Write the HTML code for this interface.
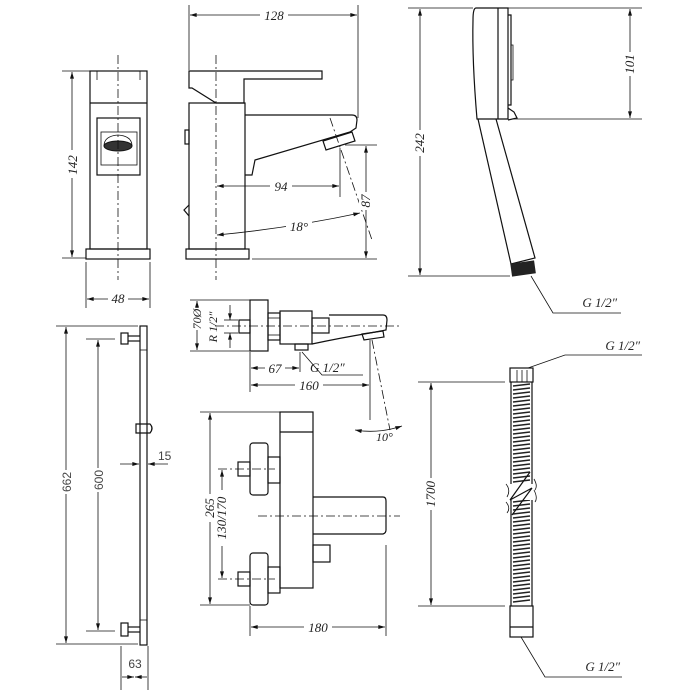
<!DOCTYPE html>
<html><head><meta charset="utf-8"><style>
html,body{margin:0;padding:0;background:#fff;}
svg{display:block}
.s{fill:none;stroke:#111;stroke-width:1.2}
.t{fill:none;stroke:#111;stroke-width:0.8}
.c{fill:none;stroke:#111;stroke-width:0.8;stroke-dasharray:9 3 2 3}
text{font-family:"Liberation Serif",serif;font-style:italic;font-size:13px;fill:#222}
.sa{font-family:"Liberation Sans",sans-serif;font-style:normal;font-size:12px;fill:#444}
</style></head><body>
<svg width="700" height="700" viewBox="0 0 700 700">
<defs>
<marker id="a" viewBox="0 0 10 6" refX="10" refY="3" markerWidth="9" markerHeight="5" orient="auto-start-reverse"><path d="M0,0L10,3L0,6z" fill="#111"/></marker>
</defs>
<g>
<!-- front view basin mixer -->
<rect class="s" x="90" y="71" width="57" height="178"/>
<line class="s" x1="90" y1="103" x2="147" y2="103"/>
<line class="t" x1="97" y1="71" x2="97" y2="80"/><line class="t" x1="140" y1="71" x2="140" y2="80"/>
<rect class="s" x="97" y="118" width="43" height="57"/>
<rect class="t" x="101" y="132" width="36" height="33"/>
<ellipse cx="118" cy="146" rx="14" ry="5" fill="#333" stroke="#111"/>
<path class="t" d="M104,146 Q104,136 118,135 Q132,136 132,146"/>
<rect class="s" x="86" y="249" width="64" height="10"/>
<line class="c" x1="118" y1="55" x2="118" y2="280"/>
<line class="t" x1="62" y1="71" x2="105" y2="71"/><line class="t" x1="62" y1="258" x2="86" y2="258"/>
<line class="t" x1="72" y1="72" x2="72" y2="257" marker-start="url(#a)" marker-end="url(#a)"/>
<rect x="64" y="150" width="16" height="28" fill="#fff"/>
<text transform="translate(77,165) rotate(-90)" text-anchor="middle">142</text>
<line class="t" x1="86" y1="262" x2="86" y2="308"/><line class="t" x1="150" y1="262" x2="150" y2="308"/>
<line class="t" x1="87" y1="299" x2="149" y2="299" marker-start="url(#a)" marker-end="url(#a)"/>
<rect x="108" y="290" width="20" height="14" fill="#fff"/>
<text x="118" y="303" text-anchor="middle">48</text>

<!-- side view -->
<rect class="s" x="189" y="103" width="56" height="146"/>
<rect class="s" x="186" y="249" width="63" height="10"/>
<path class="s" d="M189,71 L322,71 L322,79 L244,79 L244,103 L216,103 L192,88 L189,88 Z"/>
<line class="t" x1="189" y1="103" x2="245" y2="103"/>
<path class="s" d="M245,115 L352,115 Q357,115 357,120 L356,128 L350,132 L255,160 L252,175 L245,175"/>
<path class="s" d="M323,141 L352,132 L355,141 L326,150 Z"/>
<rect class="s" x="185" y="130" width="4" height="14"/>
<path class="s" d="M189,205 L184,210 L189,216"/>
<line class="c" x1="216" y1="55" x2="216" y2="280"/>
<line class="c" x1="330" y1="118" x2="372" y2="240"/>
<line class="t" x1="189" y1="5" x2="189" y2="70"/><line class="t" x1="358" y1="5" x2="358" y2="118"/>
<line class="t" x1="190" y1="15" x2="357" y2="15" marker-start="url(#a)" marker-end="url(#a)"/>
<rect x="260" y="8" width="28" height="14" fill="#fff"/>
<text x="274" y="20" text-anchor="middle">128</text>
<line class="t" x1="340" y1="148" x2="340" y2="197"/>
<line class="t" x1="217" y1="186" x2="339" y2="186" marker-start="url(#a)" marker-end="url(#a)"/>
<rect x="270" y="178" width="22" height="14" fill="#fff"/>
<text x="281" y="191" text-anchor="middle">94</text>
<path class="t" d="M217,235 Q290,228 360,213" marker-start="url(#a)" marker-end="url(#a)"/>
<rect x="286" y="219" width="26" height="14" fill="#fff"/>
<text x="299" y="231" text-anchor="middle">18°</text>
<line class="t" x1="345" y1="145" x2="377" y2="145"/><line class="t" x1="252" y1="259" x2="377" y2="259"/>
<line class="t" x1="366" y1="146" x2="366" y2="258" marker-start="url(#a)" marker-end="url(#a)"/>
<rect x="359" y="192" width="14" height="18" fill="#fff"/>
<text transform="translate(370,201) rotate(-90)" text-anchor="middle">87</text>

<!-- hand shower -->
<path class="s" d="M476,8 L508,8 L508,119 L477,119 Q472,60 473,20 Q473,8 476,8 Z"/>
<line class="s" x1="498" y1="8" x2="498" y2="119"/>
<path class="s" d="M508,15 L511,15 L511,105 L508,105"/>
<path class="t" d="M511,45 L513,45 L513,80 L511,80"/>
<path class="s" d="M508,108 L514,112 L517,118 L508,120"/>
<path class="s" d="M478,119 L511,264 L535,258 L496,119"/>
<rect x="511" y="262" width="24" height="13" fill="#222" transform="rotate(-8 523 268)"/>
<polyline class="t" points="531,276 553,313 621,313"/>
<text x="617" y="307" text-anchor="end">G 1/2″</text>
<line class="t" x1="408" y1="8" x2="473" y2="8"/><line class="t" x1="508" y1="8" x2="642" y2="8"/>
<line class="t" x1="408" y1="276" x2="510" y2="276"/><line class="t" x1="512" y1="119" x2="642" y2="119"/>
<line class="t" x1="420" y1="9" x2="420" y2="275" marker-start="url(#a)" marker-end="url(#a)"/>
<rect x="413" y="130" width="14" height="26" fill="#fff"/>
<text transform="translate(424,143) rotate(-90)" text-anchor="middle">242</text>
<line class="t" x1="630" y1="9" x2="630" y2="118" marker-start="url(#a)" marker-end="url(#a)"/>
<rect x="623" y="52" width="14" height="24" fill="#fff"/>
<text transform="translate(634,64) rotate(-90)" text-anchor="middle">101</text>

<!-- hose -->
<rect class="s" x="510" y="368" width="23" height="14"/>
<line class="t" x1="517" y1="370" x2="517" y2="382"/><line class="t" x1="522" y1="370" x2="522" y2="382"/><line class="t" x1="527" y1="370" x2="527" y2="382"/>
<path class="s" d="M511,382 L511,606 M532,382 L532,606"/>
<path d="M513,386 L530,384 M513,390 L530,388 M513,394 L530,392 M513,398 L530,396 M513,402 L530,400 M513,406 L530,404 M513,410 L530,408 M513,414 L530,412 M513,418 L530,416 M513,422 L530,420 M513,426 L530,424 M513,430 L530,428 M513,434 L530,432 M513,438 L530,436 M513,442 L530,440 M513,446 L530,444 M513,450 L530,448 M513,454 L530,452 M513,458 L530,456 M513,462 L530,460 M513,466 L530,464 M513,470 L530,468 M513,474 L530,472 M513,478 L530,476 M513,482 L530,480 M513,502 L530,500 M513,506 L530,504 M513,510 L530,508 M513,514 L530,512 M513,518 L530,516 M513,522 L530,520 M513,526 L530,524 M513,530 L530,528 M513,534 L530,532 M513,538 L530,536 M513,542 L530,540 M513,546 L530,544 M513,550 L530,548 M513,554 L530,552 M513,558 L530,556 M513,562 L530,560 M513,566 L530,564 M513,570 L530,568 M513,574 L530,572 M513,578 L530,576 M513,582 L530,580 M513,586 L530,584 M513,590 L530,588 M513,594 L530,592 M513,598 L530,596 M513,602 L530,600" stroke="#222" stroke-width="1.4"/>
<rect x="506" y="484" width="32" height="16" fill="#fff"/>
<path class="s" d="M530,472 L510,500 L532,488 L512,515"/>
<path class="t" d="M506,484 Q511,490 507,497 M534,479 Q538,486 535,490 M506,502 Q511,508 507,513 M534,490 Q538,498 535,502"/>
<rect class="s" x="510" y="606" width="23" height="31"/>
<line class="s" x1="510" y1="627" x2="533" y2="627"/>
<polyline class="t" points="528,368 565,355 642,355"/>
<text x="640" y="350" text-anchor="end">G 1/2″</text>
<polyline class="t" points="521,637 545,677 622,677"/>
<text x="620" y="671" text-anchor="end">G 1/2″</text>
<line class="t" x1="418" y1="382" x2="505" y2="382"/><line class="t" x1="418" y1="606" x2="505" y2="606"/>
<line class="t" x1="431" y1="383" x2="431" y2="605" marker-start="url(#a)" marker-end="url(#a)"/>
<rect x="424" y="478" width="14" height="32" fill="#fff"/>
<text transform="translate(435,494) rotate(-90)" text-anchor="middle">1700</text>

<!-- bath mixer top view -->
<rect class="s" x="250" y="300" width="18" height="51"/>
<rect class="s" x="239" y="320" width="11" height="13"/>
<rect class="s" x="268" y="313" width="12" height="27"/>
<line class="t" x1="268" y1="318" x2="280" y2="318"/><line class="t" x1="268" y1="335" x2="280" y2="335"/>
<rect class="s" x="280" y="311" width="32" height="33"/>
<rect class="s" x="295" y="344" width="13" height="6"/>
<rect class="s" x="312" y="318" width="17" height="15"/>
<path class="s" d="M329,315 L383,315 Q387,315 387,320 L386,330 L370,333 Q340,338 312,344"/>
<path class="s" d="M362,334 L383,331 L384,337 L364,340 Z"/>
<line class="c" x1="215" y1="326" x2="400" y2="326"/>
<line class="c" x1="372" y1="340" x2="390" y2="430"/>
<line class="t" x1="190" y1="300" x2="250" y2="300"/><line class="t" x1="190" y1="351" x2="250" y2="351"/>
<line class="t" x1="197" y1="301" x2="197" y2="350" marker-start="url(#a)" marker-end="url(#a)"/>
<rect x="190" y="308" width="14" height="22" fill="#fff"/>
<text transform="translate(201,319) rotate(-90)" text-anchor="middle" style="font-size:12px">70Ø</text>
<line class="t" x1="224" y1="320" x2="238" y2="320"/><line class="t" x1="224" y1="333" x2="238" y2="333"/>
<line class="t" x1="230" y1="305" x2="230" y2="320" marker-end="url(#a)"/><line class="t" x1="230" y1="348" x2="230" y2="333" marker-end="url(#a)"/>
<text transform="translate(217,327) rotate(-90)" text-anchor="middle" style="font-size:12px">R 1/2″</text>
<line class="t" x1="250" y1="352" x2="250" y2="392"/><line class="t" x1="300" y1="352" x2="300" y2="372"/>
<line class="t" x1="251" y1="368" x2="299" y2="368" marker-start="url(#a)" marker-end="url(#a)"/>
<rect x="265" y="361" width="20" height="14" fill="#fff"/>
<text x="275" y="373" text-anchor="middle">67</text>
<polyline class="t" points="302,352 322,375 363,375"/>
<text x="310" y="372">G 1/2″</text>
<line class="t" x1="370" y1="340" x2="370" y2="420"/>
<line class="t" x1="251" y1="385" x2="369" y2="385" marker-start="url(#a)" marker-end="url(#a)"/>
<rect x="295" y="378" width="28" height="14" fill="#fff"/>
<text x="309" y="390" text-anchor="middle">160</text>
<path class="t" d="M355,430 Q378,434 402,426" marker-start="url(#a)" marker-end="url(#a)"/>
<text x="376" y="441" style="font-size:12px">10°</text>

<!-- bath mixer front view -->
<rect class="s" x="280" y="412" width="33" height="176"/>
<line class="s" x1="280" y1="432" x2="313" y2="432"/>
<rect class="s" x="250" y="443" width="18" height="52" rx="3"/>
<rect class="s" x="250" y="553" width="18" height="52" rx="3"/>
<rect class="s" x="238" y="462" width="12" height="14"/>
<rect class="s" x="238" y="572" width="12" height="14"/>
<rect class="s" x="268" y="457" width="12" height="26"/>
<rect class="s" x="268" y="567" width="12" height="26"/>
<path class="s" d="M313,497 L383,497 Q386,497 386,501 L386,530 Q386,533 383,534 L313,534"/>
<rect class="s" x="313" y="545" width="17" height="17"/>
<line class="c" x1="258" y1="516" x2="400" y2="516"/>
<line class="c" x1="218" y1="469" x2="275" y2="469"/>
<line class="c" x1="218" y1="579" x2="275" y2="579"/>
<line class="t" x1="200" y1="412" x2="280" y2="412"/><line class="t" x1="200" y1="605" x2="250" y2="605"/>
<line class="t" x1="210" y1="413" x2="210" y2="604" marker-start="url(#a)" marker-end="url(#a)"/>
<rect x="203" y="494" width="14" height="28" fill="#fff"/>
<text transform="translate(214,508) rotate(-90)" text-anchor="middle">265</text>
<line class="t" x1="222" y1="470" x2="222" y2="578" marker-start="url(#a)" marker-end="url(#a)"/>
<rect x="215" y="490" width="14" height="56" fill="#fff"/>
<text transform="translate(226,518) rotate(-90)" text-anchor="middle">130/170</text>
<line class="t" x1="250" y1="606" x2="250" y2="636"/><line class="t" x1="386" y1="545" x2="386" y2="636"/>
<line class="t" x1="251" y1="627" x2="385" y2="627" marker-start="url(#a)" marker-end="url(#a)"/>
<rect x="304" y="620" width="28" height="14" fill="#fff"/>
<text x="318" y="632" text-anchor="middle">180</text>

<!-- shower rail -->
<rect class="s" x="140" y="326" width="7" height="319"/>
<line class="t" x1="140" y1="350" x2="147" y2="350"/><line class="t" x1="140" y1="620" x2="147" y2="620"/>
<rect class="s" x="121" y="333" width="7" height="11"/><line class="s" x1="128" y1="336" x2="140" y2="336"/><line class="s" x1="128" y1="341" x2="140" y2="341"/>
<rect class="s" x="121" y="623" width="7" height="13"/><line class="s" x1="128" y1="627" x2="140" y2="627"/><line class="s" x1="128" y1="632" x2="140" y2="632"/>
<path class="s" d="M136,424 L150,424 Q154,428 150,433 L136,433 Z"/>
<line class="t" x1="56" y1="326" x2="138" y2="326"/><line class="t" x1="56" y1="644" x2="138" y2="644"/>
<line class="t" x1="66" y1="327" x2="66" y2="643" stroke="#666" marker-start="url(#a)" marker-end="url(#a)"/>
<rect x="59" y="470" width="14" height="24" fill="#fff"/>
<text class="sa" transform="translate(71,482) rotate(-90)" text-anchor="middle">662</text>
<line class="t" x1="86" y1="339" x2="115" y2="339"/><line class="t" x1="86" y1="631" x2="115" y2="631"/>
<line class="t" x1="98" y1="340" x2="98" y2="630" stroke="#666" marker-start="url(#a)" marker-end="url(#a)"/>
<rect x="91" y="468" width="14" height="24" fill="#fff"/>
<text class="sa" transform="translate(103,480) rotate(-90)" text-anchor="middle">600</text>
<line class="t" x1="120" y1="464" x2="139" y2="464" marker-end="url(#a)"/>
<line class="t" x1="168" y1="464" x2="148" y2="464" marker-end="url(#a)"/>
<text class="sa" x="158" y="460">15</text>
<line class="t" x1="121" y1="646" x2="121" y2="690"/><line class="t" x1="148" y1="646" x2="148" y2="690"/>
<line class="t" x1="122" y1="677" x2="134" y2="677" marker-end="url(#a)"/><line class="t" x1="147" y1="677" x2="135" y2="677" marker-end="url(#a)"/>
<text class="sa" x="135" y="668" text-anchor="middle">63</text>
</g>
</svg>
</body></html>
